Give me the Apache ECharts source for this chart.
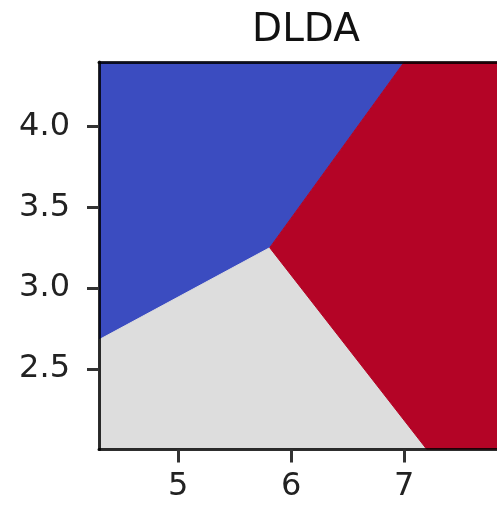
<!DOCTYPE html>
<html>
<head>
<meta charset="utf-8">
<script src="https://cdn.jsdelivr.net/npm/echarts@6/dist/echarts.min.js"></script>
<style>html,body{margin:0;padding:0;background:#fff;overflow:hidden;width:497px;height:507px}#chart{width:512px;height:507px}</style>
</head>
<body>
<div id="chart"></div>
<script>
// Axis extents (sepal length x, sepal width y)
const xRange = [4.3, 7.9];
const yRange = [2.0, 4.4];
const xTicks = [5, 6, 7];
const yTicks = [2.5, 3.0, 3.5, 4.0];

// Decision-region polygons (data units)
const regionNames = ['class0', 'class1', 'class2'];
const blueRegion = [[4.3, 4.4], [7.0, 4.4], [5.81, 3.25], [4.3, 2.68]];
const greyRegion = [[4.3, 2.68], [5.81, 3.25], [7.2, 2.0], [4.3, 2.0]];
const redRegion  = [[7.0, 4.4], [7.9, 4.4], [7.9, 2.0], [7.2, 2.0], [5.81, 3.25]];
const regionColors = ['#3b4cc0', '#dddddd', '#b40426'];
const regions = [blueRegion, greyRegion, redRegion];

const chart = echarts.init(document.getElementById('chart'), null, {renderer: 'canvas'});

const spine = 'rgba(0,0,0,0.82)';
const labelFont = {fontFamily: 'DejaVu Sans', fontSize: 32, color: '#222'};

function regionSeries(verts, color, name) {
  return {
    type: 'custom',
    name: name,
    coordinateSystem: 'cartesian2d',
    clip: true,
    data: verts,
    renderItem: function (params, api) {
      if (params.dataIndex !== 0) return null;
      const pts = verts.map(v => api.coord(v));
      return {
        type: 'polygon',
        shape: {points: pts},
        style: {fill: color, stroke: color, lineWidth: 1}
      };
    }
  };
}

chart.setOption({
  animation: false,
  backgroundColor: '#fff',
  title: {
    text: 'DLDA',
    left: 301,
    top: 6,
    textAlign: 'center',
    textStyle: {fontFamily: 'DejaVu Sans', fontSize: 39, fontWeight: 'normal', color: '#111'}
  },
  grid: {left: 99, width: 407, top: 62, height: 387.5, containLabel: false, outerBoundsMode: 'none'},
  xAxis: [{
    type: 'value', min: xRange[0], max: xRange[1], position: 'bottom', z: 10,
    splitLine: {show: false},
    axisLine: {show: true, onZero: false, lineStyle: {color: spine, width: 3}},
    axisTick: {show: true, length: 13, customValues: xTicks, lineStyle: {color: '#333', width: 3}},
    axisLabel: Object.assign({show: true, margin: 21, customValues: xTicks, formatter: v => String(v)}, labelFont)
  }, {
    type: 'value', min: xRange[0], max: xRange[1], position: 'top', z: 10,
    splitLine: {show: false},
    axisLine: {show: true, onZero: false, lineStyle: {color: spine, width: 3}},
    axisTick: {show: false}, axisLabel: {show: false}
  }],
  yAxis: [{
    type: 'value', min: yRange[0], max: yRange[1], position: 'left', z: 10,
    splitLine: {show: false},
    axisLine: {show: true, onZero: false, lineStyle: {color: spine, width: 3}},
    axisTick: {show: true, length: 12, customValues: yTicks, lineStyle: {color: '#333', width: 3}},
    axisLabel: Object.assign({show: true, margin: 29, customValues: yTicks, formatter: v => v.toFixed(1)}, labelFont)
  }, {
    type: 'value', min: yRange[0], max: yRange[1], position: 'right', z: 10,
    splitLine: {show: false},
    axisLine: {show: true, onZero: false, lineStyle: {color: spine, width: 3}},
    axisTick: {show: false}, axisLabel: {show: false}
  }],
  series: regions.map((r, i) => regionSeries(r, regionColors[i], regionNames[i]))
});
</script>
</body>
</html>
